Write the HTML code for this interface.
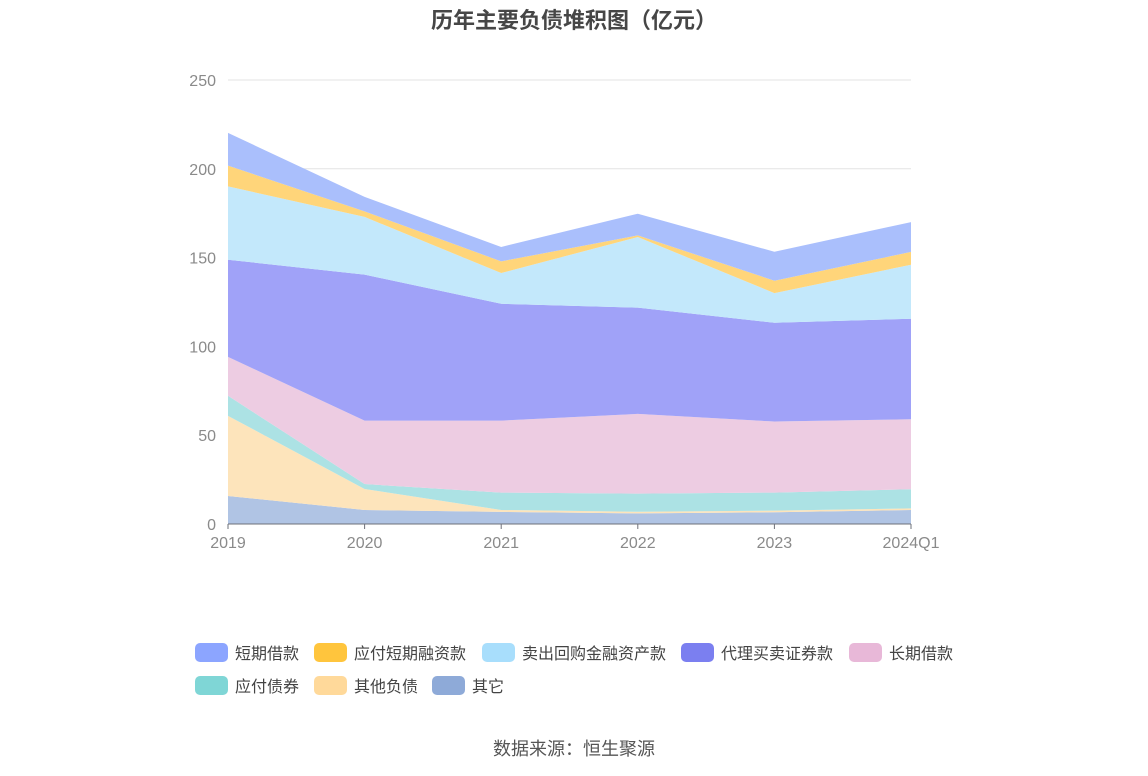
<!DOCTYPE html>
<html><head><meta charset="utf-8"><style>
body{margin:0;background:#fff;font-family:"Liberation Sans","Noto Sans CJK SC",sans-serif;}
#wrap{position:relative;width:1148px;height:776px;overflow:hidden}
.title{position:absolute;top:3px;left:0;width:1148px;text-align:center;font-size:22px;font-weight:bold;color:#464646}
.src{position:absolute;top:735px;left:0;width:1148px;text-align:center;font-size:18px;color:#555}
.leg{position:absolute;font-size:16px;color:#444;display:flex;align-items:center;height:20px}
.leg i{display:inline-block;width:33px;height:19px;border-radius:5px;margin-right:7px}
</style></head><body><div id="wrap">
<div class="title">历年主要负债堆积图（亿元）</div>
<svg id="chart" width="1148" height="776" style="position:absolute;left:0;top:0"></svg>
<div id="legend"></div>
<div class="src">数据来源：恒生聚源</div>
</div>
<script>
const categories=["2019","2020","2021","2022","2023","2024Q1"];
const yTicks=[0,50,100,150,200,250];
const seriesNames=["其它","其他负债","应付债券","长期借款","代理买卖证券款","卖出回购金融资产款","应付短期融资款","短期借款"];
const sOther=[15.8,7.9,6.8,6.0,6.6,7.9];
const sOtherLiab=[45.1,11.8,1.1,0.9,0.9,0.9];
const sBonds=[11.3,2.8,9.8,10.2,10.2,10.8];
const sLongLoan=[21.9,35.7,40.5,44.9,40.0,39.4];
const sAgency=[54.7,82.2,65.8,59.8,55.6,56.6];
const sRepo=[41.3,32.5,17.3,39.8,16.7,30.4];
const sShortFin=[11.7,3.1,6.6,0.9,7.0,7.2];
const sShortLoan=[18.4,8.2,8.1,12.2,16.3,16.8];
const seriesVals=[sOther,sOtherLiab,sBonds,sLongLoan,sAgency,sRepo,sShortFin,sShortLoan];
const fills=["#b0c4e4","#fde4bb","#ace2e4","#edcce2","#a0a2f8","#c3e8fb","#ffd57a","#aabffc"];
const legendColors=["#8ca5ff","#ffc53d","#a8defc","#7b7ff0","#e8b8d8","#7fd6d6","#ffd99a","#8eaad8"];
const legendNames=["短期借款","应付短期融资款","卖出回购金融资产款","代理买卖证券款","长期借款","应付债券","其他负债","其它"];
const NS="http://www.w3.org/2000/svg";
const svg=document.getElementById('chart');
const x0=228,x1=911,yb=524,yt=80,ymax=250;
const xs=i=>x0+(x1-x0)*i/(categories.length-1);
const ys=v=>yb-(yb-yt)*v/ymax;
function mk(t,a){const e=document.createElementNS(NS,t);for(const k in a)e.setAttribute(k,a[k]);svg.appendChild(e);return e;}
yTicks.forEach(t=>{
 if(t>0){const g=mk('line',{x1:x0,x2:x1,y1:ys(t),y2:ys(t),stroke:'#e3e3e3'});
 
 }
 const l=mk('text',{x:216,y:ys(t)+6,'text-anchor':'end','font-size':16,fill:'#8a8a8a'});
 l.textContent=t;
 
 
});
let base=categories.map(()=>0);
seriesVals.forEach((vals,si)=>{
 const top=base.map((b,i)=>b+vals[i]);
 let d='';
 top.forEach((v,i)=>{d+=(i?'L':'M')+xs(i)+','+ys(v);});
 for(let i=base.length-1;i>=0;i--)d+='L'+xs(i)+','+ys(base[i]);
 const p=mk('path',{d:d+'Z',fill:fills[si]});
 
 
 base=top;
});
const ax=mk('line',{x1:x0,x2:x1,y1:yb,y2:yb,stroke:'#6e7079'});


categories.forEach((c,i)=>{
 const tk=mk('line',{x1:xs(i),x2:xs(i),y1:yb,y2:yb+5,stroke:'#6e7079'});
 
 
 const t=mk('text',{x:xs(i),y:548,'text-anchor':'middle','font-size':16,fill:'#8a8a8a'});
 t.textContent=c;
 
 
});
const legPos=[[195,642],[314,642],[482,642],[681,642],[849,642],[195,675],[314,675],[432,675]];
const lg=document.getElementById('legend');
legendNames.forEach((n,i)=>{
 const d=document.createElement('div');
 d.className='leg';
 d.style.left=legPos[i][0]+'px';d.style.top=legPos[i][1]+'px';
 d.innerHTML='<i style="background:'+legendColors[i]+'"></i>'+n;
 
 
 lg.appendChild(d);
});
</script></body></html>
